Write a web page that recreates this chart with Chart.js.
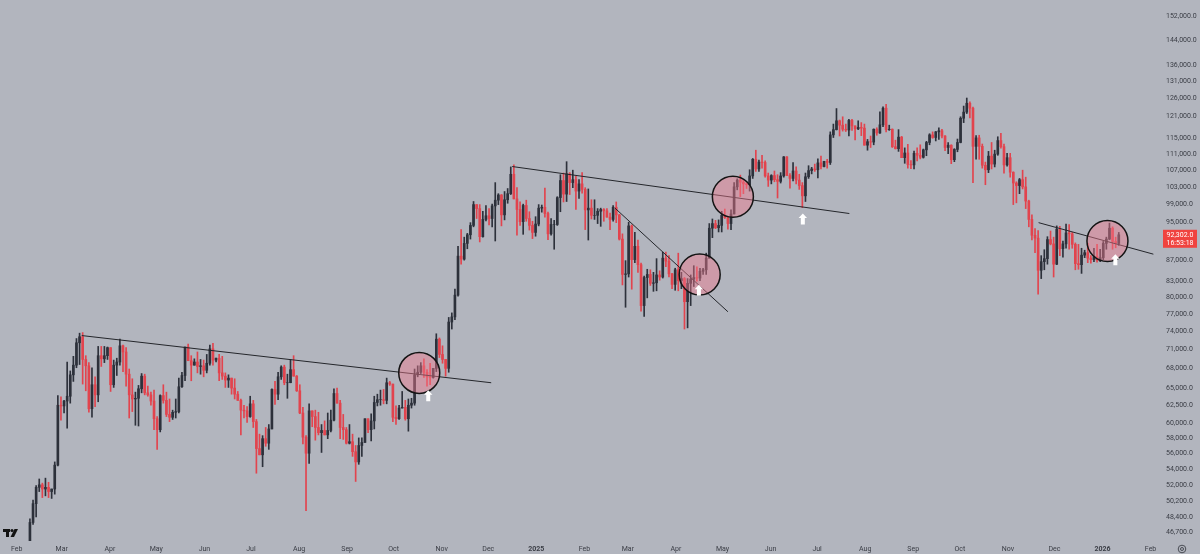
<!DOCTYPE html>
<html>
<head>
<meta charset="utf-8">
<script src="https://cdn.jsdelivr.net/npm/chart.js@4.4.1/dist/chart.umd.min.js"></script>
<style>
html, body { margin: 0; padding: 0; background: #b2b5be; }
canvas { display: block; }
</style>
</head>
<body>
<canvas id="c" width="1200" height="554"></canvas>
<script>
// BTCUSD, grouped into 2-day candles, prices in thousands
const firstDay = "2024-02-09";
const firstOpen = 45.3;
const highs = [
	48.2, 50.3, 52.0, 52.8, 52.3, 52.9, 52.4, 51.6, 54.9, 63.9,
	63.7, 63.2, 69.0, 67.6, 69.9, 72.8, 73.7, 73.8, 70.0, 68.9,
	68.1, 66.7, 71.5, 71.5, 71.5, 71.4, 71.3, 69.3, 69.6, 72.7,
	71.7, 71.3, 67.9, 66.4, 64.4, 65.4, 67.2, 67.1, 65.3, 64.4,
	64.7, 60.9, 64.0, 65.5, 64.4, 63.4, 61.8, 63.4, 66.5, 67.4,
	71.4, 71.9, 70.0, 69.5, 70.6, 69.4, 69.3, 70.2, 71.7, 72.0,
	69.6, 70.2, 69.9, 67.3, 67.0, 66.5, 66.4, 64.5, 63.4, 62.5,
	62.3, 63.8, 63.2, 60.5, 58.5, 58.3, 59.4, 59.8, 64.9, 66.0,
	67.4, 68.4, 68.5, 67.1, 69.4, 70.0, 66.9, 65.5, 62.2, 58.3,
	62.7, 61.7, 61.8, 61.5, 59.8, 60.3, 61.4, 61.8, 64.9, 65.0,
	63.2, 61.2, 59.4, 59.8, 58.5, 57.0, 58.0, 58.0, 60.6, 60.6,
	61.3, 63.8, 64.1, 64.7, 64.8, 66.5, 66.0, 65.6, 62.4, 62.5,
	64.5, 63.2, 63.4, 63.5, 67.9, 68.4, 68.9, 69.5, 67.8, 68.8,
	68.0, 73.6, 72.9, 71.6, 69.4, 76.4, 77.2, 81.5, 89.9, 93.4,
	91.8, 92.6, 94.9, 99.6, 98.8, 98.9, 97.4, 98.7, 98.0, 99.0,
	104.0, 101.4, 101.2, 101.9, 102.6, 107.8, 108.3, 102.8, 99.5, 99.0,
	99.9, 97.3, 95.2, 96.2, 98.9, 98.8, 102.7, 97.2, 95.8, 95.4,
	100.7, 105.9, 106.3, 109.1, 106.4, 107.0, 105.5, 104.7, 106.4, 102.8,
	102.5, 100.0, 100.0, 98.0, 98.1, 98.0, 98.0, 97.0, 98.7, 99.5,
	96.7, 92.5, 87.0, 95.0, 94.4, 92.8, 91.2, 86.5, 84.0, 85.3,
	85.2, 84.7, 87.4, 85.0, 88.7, 88.7, 88.0, 84.5, 85.5, 88.5,
	84.7, 83.7, 83.5, 84.2, 86.0, 85.8, 85.5, 85.5, 88.5, 94.7,
	95.7, 95.4, 95.5, 97.4, 97.9, 96.3, 97.7, 104.0, 104.9, 105.8,
	104.7, 104.0, 107.1, 109.9, 112.0, 109.5, 110.7, 109.3, 106.3, 105.9,
	106.8, 105.9, 106.4, 110.4, 110.4, 106.2, 108.9, 107.8, 106.0, 104.0,
	106.3, 108.1, 107.7, 108.5, 109.8, 110.5, 109.2, 109.7, 116.8, 118.9,
	123.2, 120.0, 120.9, 118.9, 120.2, 120.2, 118.4, 119.8, 119.3, 118.9,
	114.8, 115.7, 117.6, 117.9, 122.3, 123.7, 124.4, 118.6, 117.6, 114.6,
	117.4, 115.6, 112.6, 113.5, 109.4, 111.8, 112.6, 113.4, 112.3, 114.3,
	116.3, 116.8, 116.9, 117.9, 117.5, 115.8, 114.0, 113.4, 112.4, 114.9,
	120.9, 123.9, 126.2, 125.1, 123.6, 115.8, 115.9, 113.6, 109.0, 111.7,
	114.0, 112.0, 115.5, 116.4, 113.6, 111.2, 111.2, 106.6, 104.2, 105.0,
	107.0, 105.3, 99.9, 96.6, 93.6, 93.2, 88.0, 89.2, 91.9, 93.1,
	91.8, 94.2, 94.1, 91.0, 94.6, 94.5, 92.8, 90.6, 90.3, 89.5,
	89.1, 90.5, 88.0, 89.5, 90.3, 89.3, 90.9, 91.8, 94.8, 94.0,
	91.8, 92.8
];
const lows = [
	45.2, 47.6, 48.4, 51.3, 50.6, 50.8, 50.6, 50.5, 51.0, 54.4,
	60.4, 61.4, 59.3, 62.8, 66.0, 68.1, 68.6, 65.6, 64.6, 61.5,
	60.8, 62.3, 63.0, 68.3, 68.9, 69.4, 64.5, 65.1, 66.9, 68.5,
	67.5, 65.3, 60.7, 61.6, 59.7, 59.6, 64.3, 64.0, 63.8, 62.5,
	59.1, 56.5, 58.8, 62.8, 60.9, 60.2, 60.5, 60.7, 61.4, 65.1,
	66.1, 69.2, 66.1, 68.5, 67.3, 67.1, 66.7, 67.3, 68.5, 68.5,
	69.0, 66.1, 66.3, 65.1, 65.1, 64.1, 63.4, 63.2, 58.4, 60.7,
	60.1, 60.8, 59.4, 53.5, 55.8, 54.3, 56.9, 56.5, 59.2, 62.6,
	63.3, 66.3, 65.5, 63.5, 65.8, 67.0, 64.5, 61.3, 57.2, 49.1,
	54.7, 59.5, 57.7, 58.4, 56.1, 58.4, 57.9, 58.8, 60.3, 62.8,
	57.9, 57.8, 57.2, 57.2, 55.6, 52.5, 54.6, 55.6, 57.4, 58.7,
	57.6, 59.2, 62.4, 62.5, 62.7, 62.7, 65.4, 60.2, 59.8, 60.5,
	62.1, 60.4, 58.9, 62.1, 62.5, 66.7, 67.2, 66.6, 65.3, 65.5,
	66.5, 67.5, 69.7, 68.8, 66.8, 67.4, 74.4, 76.0, 80.2, 86.3,
	87.1, 89.4, 91.4, 94.0, 95.8, 90.8, 91.8, 95.3, 94.4, 94.0,
	91.0, 98.9, 94.2, 95.5, 99.2, 101.2, 100.3, 92.2, 94.3, 92.4,
	95.2, 93.3, 91.5, 92.0, 94.2, 97.2, 96.1, 91.3, 92.2, 89.3,
	94.3, 97.3, 99.5, 99.6, 101.2, 102.8, 97.8, 100.3, 101.5, 93.4,
	91.2, 95.7, 95.6, 94.7, 94.1, 95.2, 96.1, 93.4, 95.2, 94.9,
	91.2, 82.3, 78.2, 83.8, 81.5, 86.6, 84.7, 77.5, 76.6, 79.9,
	82.2, 81.1, 81.2, 83.2, 83.6, 85.8, 83.8, 81.6, 81.3, 81.2,
	81.6, 74.4, 74.6, 78.5, 82.0, 83.0, 83.1, 84.3, 84.3, 87.5,
	91.7, 93.6, 92.9, 92.9, 95.8, 93.5, 93.4, 96.9, 102.3, 100.7,
	101.4, 102.6, 102.0, 105.0, 106.7, 106.7, 107.5, 105.3, 103.1, 103.7,
	104.2, 100.4, 103.9, 105.3, 105.7, 102.7, 104.4, 103.7, 102.4, 98.2,
	99.6, 105.0, 106.1, 106.7, 105.1, 107.3, 107.8, 107.5, 108.4, 115.3,
	117.3, 115.7, 117.0, 116.9, 115.7, 117.2, 114.7, 117.4, 115.8, 114.1,
	112.0, 112.7, 113.4, 115.9, 116.4, 118.2, 116.8, 117.2, 112.7, 112.3,
	111.7, 110.1, 108.7, 107.5, 107.4, 107.3, 109.3, 109.8, 110.0, 110.6,
	113.4, 115.1, 114.4, 114.8, 115.2, 111.9, 111.1, 108.6, 109.1, 111.6,
	113.9, 119.3, 121.8, 120.6, 104.0, 109.7, 109.7, 107.5, 103.5, 106.4,
	107.3, 107.8, 110.7, 112.5, 106.3, 108.0, 105.3, 98.9, 99.3, 101.4,
	102.5, 98.0, 94.0, 91.2, 88.6, 80.6, 83.5, 85.2, 86.3, 90.2,
	83.8, 86.2, 88.0, 87.7, 89.5, 89.3, 89.5, 85.2, 85.3, 84.5,
	87.6, 86.6, 86.5, 86.8, 86.7, 86.8, 87.2, 89.3, 91.3, 89.3,
	89.6, 90.1
];
const closes = [
	47.8, 49.9, 51.8, 52.1, 51.6, 51.8, 51.3, 51.6, 54.5, 62.5,
	62.4, 63.1, 63.8, 67.0, 68.5, 72.1, 73.1, 69.4, 68.4, 62.0,
	65.5, 64.0, 70.0, 69.5, 70.0, 71.3, 65.5, 68.5, 69.0, 71.6,
	70.6, 67.1, 64.0, 63.4, 63.5, 64.9, 66.8, 64.3, 64.0, 63.1,
	60.6, 59.1, 63.9, 63.2, 61.2, 60.8, 61.5, 61.6, 65.2, 66.9,
	71.4, 69.2, 68.5, 69.0, 68.3, 68.4, 67.7, 68.8, 71.1, 69.3,
	69.6, 67.3, 66.8, 66.2, 66.5, 65.0, 64.1, 63.2, 61.8, 61.7,
	60.9, 62.7, 60.2, 56.6, 55.8, 57.9, 57.3, 59.2, 64.8, 64.1,
	66.7, 68.2, 65.8, 65.8, 67.8, 66.8, 64.6, 61.4, 58.1, 56.0,
	61.7, 60.9, 59.4, 58.7, 59.0, 58.4, 59.0, 60.4, 64.2, 62.8,
	59.4, 59.1, 57.3, 57.5, 56.2, 54.9, 57.0, 57.4, 60.6, 59.1,
	60.3, 62.9, 63.3, 63.3, 63.2, 65.8, 65.6, 60.8, 60.6, 62.1,
	62.2, 60.6, 62.5, 62.8, 67.0, 67.4, 68.4, 67.4, 66.7, 66.6,
	68.0, 72.7, 70.2, 69.4, 68.0, 75.6, 76.5, 80.4, 87.9, 87.3,
	90.5, 92.3, 94.3, 98.9, 98.0, 91.9, 95.6, 96.4, 95.8, 98.6,
	99.9, 101.1, 96.6, 100.0, 101.4, 106.0, 100.2, 97.8, 95.1, 98.7,
	95.8, 94.3, 92.8, 94.6, 98.1, 98.3, 96.9, 92.5, 94.5, 94.5,
	100.5, 104.5, 101.3, 106.1, 104.0, 104.7, 102.0, 103.7, 102.4, 97.7,
	98.1, 96.5, 96.5, 97.4, 97.8, 97.5, 96.1, 95.6, 98.3, 96.6,
	91.4, 84.3, 84.4, 94.2, 87.2, 89.9, 86.2, 78.5, 83.7, 84.3,
	82.6, 82.7, 84.2, 83.8, 87.5, 86.9, 84.4, 82.4, 85.2, 83.1,
	83.5, 79.2, 82.6, 83.4, 83.7, 83.6, 84.9, 85.2, 87.5, 93.7,
	94.7, 93.8, 94.3, 96.5, 96.0, 94.7, 96.8, 103.0, 104.6, 104.1,
	103.7, 103.5, 105.6, 109.7, 107.3, 109.0, 108.9, 105.6, 104.6, 105.7,
	104.7, 104.3, 105.6, 110.3, 105.7, 105.0, 106.8, 104.6, 103.3, 100.9,
	105.4, 106.9, 107.3, 107.1, 108.8, 107.9, 109.2, 108.9, 116.0, 117.4,
	119.8, 118.6, 117.5, 117.3, 119.9, 118.4, 117.6, 118.0, 117.8, 113.3,
	114.2, 114.1, 117.5, 116.5, 118.7, 123.3, 117.4, 117.5, 112.9, 112.4,
	115.4, 110.1, 111.3, 108.4, 108.3, 111.2, 110.7, 110.2, 112.1, 114.0,
	116.0, 115.3, 116.8, 117.1, 115.7, 112.7, 113.3, 109.6, 112.2, 114.0,
	120.5, 122.2, 124.7, 123.3, 113.0, 115.2, 113.0, 108.2, 107.1, 110.5,
	108.5, 111.0, 114.5, 112.9, 108.3, 110.1, 106.5, 103.9, 103.3, 104.7,
	103.0, 99.7, 95.6, 92.2, 91.6, 85.1, 86.8, 87.4, 91.3, 90.4,
	86.3, 93.5, 89.4, 90.4, 92.7, 92.5, 90.3, 86.4, 86.2, 88.1,
	88.6, 87.5, 87.2, 87.8, 87.1, 87.6, 90.5, 91.4, 93.7, 90.9,
	90.5, 92.3
];

const priceTicks = [46700, 48400, 50200, 52000, 54000, 56000, 58000, 60000, 62500, 65000,
	68000, 71000, 74000, 77000, 80000, 83000, 87000, 91000, 95000, 99000,
	103000, 107000, 111000, 115000, 121000, 126000, 131000, 136000, 144000, 152000];
const monthDates = ["2024-02-01", "2024-03-01", "2024-04-01", "2024-05-01", "2024-06-01", "2024-07-01",
	"2024-08-01", "2024-09-01", "2024-10-01", "2024-11-01", "2024-12-01", "2025-01-01",
	"2025-02-01", "2025-03-01", "2025-04-01", "2025-05-01", "2025-06-01", "2025-07-01",
	"2025-08-01", "2025-09-01", "2025-10-01", "2025-11-01", "2025-12-01", "2026-01-01", "2026-02-01"];
const monthLabels = ["Feb", "Mar", "Apr", "May", "Jun", "Jul", "Aug", "Sep", "Oct", "Nov", "Dec", "2025",
	"Feb", "Mar", "Apr", "May", "Jun", "Jul", "Aug", "Sep", "Oct", "Nov", "Dec", "2026", "Feb"];

// drawings, as [day since 2024-03-01, price in k]
const trendLines = [
	[[12.9, 73.3], [276.9, 65.8]],
	[[290.4, 107.9], [507.8, 96.9]],
	[[356.7, 98.1], [429.5, 77.4]],
	[[629.8, 94.9], [703.8, 88.3]]
];
const circles = [[230.5, 67.3], [411.3, 84.3], [432.7, 100.7], [674.2, 91.0]];
const arrows = [[236.3, 63.8], [410.8, 81.2], [477.8, 95.6], [679.3, 87.1]];
const lastPrice = 92302.0;
const countdown = "16:53:18";

const dayOf = s => (Date.parse(s) - Date.parse("2024-03-01")) / 864e5;
const UP = "#2d313b", DOWN = "#e2444e";
const FONT = "Roboto, 'Liberation Sans', sans-serif";

const d0 = dayOf(firstDay);
const wicks = [], bodies = [], colors = [];
let prev = firstOpen;
closes.forEach((c, i) => {
	const o = prev;
	const x = d0 + 2 * i + 0.5;
	const h = Math.max(highs[i], o, c);
	const l = Math.min(lows[i], o, c);
	wicks.push({ x: x, y: [l * 1000, h * 1000] });
	bodies.push({ x: x, y: [o * 1000, c * 1000] });
	colors.push(c >= o ? UP : DOWN);
	prev = c;
});

const drawings = {
	id: "drawings",
	beforeDraw(chart) {
		const ctx = chart.ctx;
		ctx.save();
		ctx.fillStyle = "#b2b5be";
		ctx.fillRect(0, 0, chart.width, chart.height);
		ctx.restore();
	},
	afterDatasetsDraw(chart) {
		const { ctx, scales } = chart;
		const px = d => scales.x.getPixelForValue(d);
		const py = p => scales.y.getPixelForValue(p * 1000);
		ctx.save();
		ctx.strokeStyle = "#24262b";
		ctx.lineWidth = 1;
		trendLines.forEach(([a, b]) => {
			ctx.beginPath();
			ctx.moveTo(px(a[0]), py(a[1]));
			ctx.lineTo(px(b[0]), py(b[1]));
			ctx.stroke();
		});
		circles.forEach(([d, p]) => {
			ctx.beginPath();
			ctx.arc(px(d), py(p), 20.5, 0, Math.PI * 2);
			ctx.fillStyle = "rgba(240,122,142,0.45)";
			ctx.fill();
			ctx.lineWidth = 1.5;
			ctx.strokeStyle = "#141414";
			ctx.stroke();
		});
		ctx.fillStyle = "#ffffff";
		arrows.forEach(([d, p]) => {
			const cx = px(d), cy = py(p);
			ctx.beginPath();
			ctx.moveTo(cx, cy - 6);
			ctx.lineTo(cx + 4.2, cy - 1.5);
			ctx.lineTo(cx + 2, cy - 1.5);
			ctx.lineTo(cx + 2, cy + 5);
			ctx.lineTo(cx - 2, cy + 5);
			ctx.lineTo(cx - 2, cy - 1.5);
			ctx.lineTo(cx - 4.2, cy - 1.5);
			ctx.closePath();
			ctx.fill();
		});
		ctx.restore();
	},
	afterDraw(chart) {
		const { ctx, scales } = chart;
		const y = scales.y.getPixelForValue(lastPrice);
		ctx.save();
		// last price tag
		ctx.fillStyle = "#f0433f";
		ctx.fillRect(1163, y - 5, 34, 18);
		ctx.fillStyle = "#ffffff";
		ctx.font = "7px " + FONT;
		ctx.textAlign = "center";
		ctx.textBaseline = "middle";
		ctx.fillText(lastPrice.toLocaleString("en-US", { minimumFractionDigits: 1 }), 1180, y + 0.5);
		ctx.fillText(countdown, 1180, y + 8.5);
		// TV logo
		ctx.fillStyle = "#131313";
		ctx.fillRect(3, 529, 7, 3);
		ctx.fillRect(6, 529, 3, 8);
		ctx.beginPath();
		ctx.arc(12, 530.5, 1.6, 0, Math.PI * 2);
		ctx.fill();
		ctx.beginPath();
		ctx.moveTo(14.5, 529);
		ctx.lineTo(18, 529);
		ctx.lineTo(14, 537);
		ctx.lineTo(10.5, 537);
		ctx.closePath();
		ctx.fill();
		// settings gear
		ctx.strokeStyle = "#4a4d55";
		ctx.lineWidth = 1;
		ctx.beginPath();
		ctx.arc(1182, 549, 3.8, 0, Math.PI * 2);
		ctx.stroke();
		ctx.beginPath();
		ctx.arc(1182, 549, 1.5, 0, Math.PI * 2);
		ctx.stroke();
		ctx.restore();
	}
};

new Chart(document.getElementById("c"), {
	type: "bar",
	data: {
		datasets: [
			{ data: wicks, backgroundColor: colors, barThickness: 1, grouped: false },
			{ data: bodies, backgroundColor: colors, barThickness: 2, grouped: false }
		]
	},
	options: {
		responsive: false,
		animation: false,
		devicePixelRatio: 1,
		layout: { padding: 0 },
		plugins: { legend: { display: false }, tooltip: { enabled: false } },
		scales: {
			x: {
				type: "linear",
				min: -39.8,
				max: 705.5,
				offset: false,
				grid: { display: false, drawTicks: false },
				border: { display: false },
				afterBuildTicks: s => { s.ticks = monthDates.map(m => ({ value: dayOf(m) })); },
				afterFit: s => { s.height = 13; s.paddingLeft = 0; s.paddingRight = 0; },
				ticks: {
					autoSkip: false,
					maxRotation: 0,
					padding: 4,
					color: "#3a3d45",
					font: c => ({ size: 7, family: FONT, weight: /^20/.test(monthLabels[c.index]) ? "bold" : "normal" }),
					callback: (v, i) => monthLabels[i]
				}
			},
			y: {
				type: "logarithmic",
				position: "right",
				min: 45816,
				max: 157919,
				grid: { display: false, drawTicks: false },
				border: { display: false },
				afterBuildTicks: s => { s.ticks = priceTicks.map(v => ({ value: v })); },
				afterFit: s => { s.width = 44; s.paddingTop = 0; s.paddingBottom = 0; },
				ticks: {
					autoSkip: false,
					padding: 10,
					color: "#3a3d45",
					font: { size: 7, family: FONT },
					callback: v => Number(v).toLocaleString("en-US", { minimumFractionDigits: 1 })
				}
			}
		}
	},
	plugins: [drawings]
});
</script>
</body>
</html>
